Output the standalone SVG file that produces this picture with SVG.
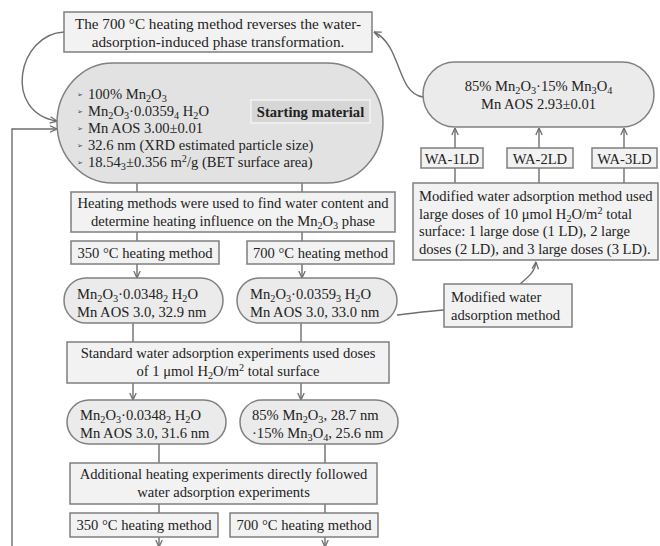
<svg xmlns="http://www.w3.org/2000/svg" width="660" height="546" viewBox="0 0 660 546">
<defs>
<marker id="ah" viewBox="0 0 8 8" refX="7.5" refY="4" markerWidth="8" markerHeight="8" markerUnits="userSpaceOnUse" orient="auto">
<path d="M0.5,0.8 L7.5,4 L0.5,7.2" fill="none" stroke="#6e6e6e" stroke-width="1.3"/>
</marker>
<style>
text{font-family:"Liberation Serif","Times New Roman",serif;font-size:14.6px;fill:#222}
.c{text-anchor:middle}
.b{font-weight:bold}
.t{font-size:15.2px}
.sb{font-size:10.2px;baseline-shift:-3px}
.sp{font-size:10.2px;baseline-shift:5px}
.box{fill:#f2f2f2;stroke:#7f7f7f;stroke-width:1.5}
.cap{fill:#ebebeb;stroke:#808080;stroke-width:1.5}
.cap0{fill:#e2e2e2;stroke:#808080;stroke-width:1.5}
.ln{fill:none;stroke:#6e6e6e;stroke-width:1.4}
.ar{fill:none;stroke:#6e6e6e;stroke-width:1.4;marker-end:url(#ah)}
.bl{font-family:"DejaVu Sans",sans-serif;font-size:7px;fill:#444}
</style>
</defs>
<rect width="660" height="546" fill="#ffffff"/>

<g id="connectors">
<path class="ar" d="M64,32 C18,34 2,112 57,121"/>
<path class="ar" d="M12,546 L12,129 L57,129"/>
<path class="ar" d="M423,97 C396,93 402,45 374,32"/>
<path class="ln" d="M137,183 V192 M302,183 V192"/>
<path class="ln" d="M137,232 V241 M302,232 V241"/>
<path class="ar" d="M137,264 V278"/>
<path class="ar" d="M302,264 V278"/>
<path class="ln" d="M133,323 V342 M301,323 V342"/>
<path class="ar" d="M133,383 V400"/>
<path class="ar" d="M301,383 V400"/>
<path class="ln" d="M159,444 V463 M325,444 V463"/>
<path class="ln" d="M159,504 V513 M325,504 V513"/>
<path class="ar" d="M159,537 V547"/>
<path class="ar" d="M325,537 V547"/>
<path class="ln" d="M397,315 C415,313 428,311 444,310"/>
<path class="ar" d="M520,284 C528,277 535,272 536,262"/>
<path class="ln" d="M455,168 V183 M539,168 V183 M624,168 V183"/>
<path class="ar" d="M455,148 V128"/>
<path class="ar" d="M539,148 V128"/>
<path class="ar" d="M624,148 V128"/>
</g>

<g id="reverse-note">
<rect class="box" x="64" y="12" width="308" height="40"/>
<text class="c t" x="218" y="29">The 700 °C heating method reverses the water-</text>
<text class="c t" x="218" y="47">adsorption-induced phase transformation.</text>
</g>

<g id="starting-material">
<rect class="cap0" x="57" y="63" width="326" height="120" rx="56" ry="60"/>
<rect x="251" y="100" width="119" height="23" fill="#d6d6d6" stroke="#f4f4f4" stroke-width="1.5"/>
<text class="c b" x="310.5" y="117">Starting material</text>
<text class="bl" x="77" y="97">➢</text>
<text class="bl" x="77" y="114">➢</text>
<text class="bl" x="77" y="131">➢</text>
<text class="bl" x="77" y="148">➢</text>
<text class="bl" x="77" y="165">➢</text>
<text x="88" y="99">100% Mn<tspan class="sb">2</tspan>O<tspan class="sb">3</tspan></text>
<text x="88" y="116">Mn<tspan class="sb">2</tspan>O<tspan class="sb">3</tspan>·0.0359<tspan class="sb">4</tspan> H<tspan class="sb">2</tspan>O</text>
<text x="88" y="133">Mn AOS 3.00±0.01</text>
<text x="88" y="150">32.6 nm (XRD estimated particle size)</text>
<text x="88" y="167">18.54<tspan class="sb">3</tspan>±0.356 m<tspan class="sp">2</tspan>/g (BET surface area)</text>
</g>

<g id="heating-methods">
<rect class="box" x="71" y="192" width="324" height="40"/>
<text class="c" x="233" y="208">Heating methods were used to find water content and</text>
<text class="c" x="233" y="226">determine heating influence on the Mn<tspan class="sb">2</tspan>O<tspan class="sb">3</tspan> phase</text>
</g>

<g id="heat350-a">
<rect class="box" x="71" y="241" width="148" height="23"/>
<text class="c" x="145" y="257.5">350 °C heating method</text>
</g>
<g id="heat700-a">
<rect class="box" x="247" y="241" width="147" height="23"/>
<text class="c" x="320.5" y="257.5">700 °C heating method</text>
</g>

<g id="result350-a">
<rect class="cap" x="64" y="278" width="159" height="45" rx="22" ry="22.5"/>
<text x="77" y="299">Mn<tspan class="sb">2</tspan>O<tspan class="sb">3</tspan>·0.0348<tspan class="sb">2</tspan> H<tspan class="sb">2</tspan>O</text>
<text x="77" y="317">Mn AOS 3.0, 32.9 nm</text>
</g>
<g id="result700-a">
<rect class="cap" x="237" y="278" width="160" height="45" rx="22" ry="22.5"/>
<text x="250" y="299">Mn<tspan class="sb">2</tspan>O<tspan class="sb">3</tspan>·0.0359<tspan class="sb">3</tspan> H<tspan class="sb">2</tspan>O</text>
<text x="250" y="317">Mn AOS 3.0, 33.0 nm</text>
</g>

<g id="standard-wa">
<rect class="box" x="67" y="342" width="322" height="41"/>
<text class="c" x="228" y="358">Standard water adsorption experiments used doses</text>
<text class="c" x="228" y="376">of 1 μmol H<tspan class="sb">2</tspan>O/m<tspan class="sp">2</tspan> total surface</text>
</g>

<g id="result350-b">
<rect class="cap" x="67" y="400" width="159" height="44" rx="22" ry="22"/>
<text x="80" y="420">Mn<tspan class="sb">2</tspan>O<tspan class="sb">3</tspan>·0.0348<tspan class="sb">2</tspan> H<tspan class="sb">2</tspan>O</text>
<text x="80" y="438">Mn AOS 3.0, 31.6 nm</text>
</g>
<g id="result700-b">
<rect class="cap" x="240" y="400" width="158" height="44" rx="22" ry="22"/>
<text x="252" y="420">85% Mn<tspan class="sb">2</tspan>O<tspan class="sb">3</tspan>, 28.7 nm</text>
<text x="252" y="438">·15% Mn<tspan class="sb">3</tspan>O<tspan class="sb">4</tspan>, 25.6 nm</text>
</g>

<g id="additional-heating">
<rect class="box" x="70" y="463" width="307" height="41"/>
<text class="c" x="223.5" y="479">Additional heating experiments directly followed</text>
<text class="c" x="223.5" y="497">water adsorption experiments</text>
</g>

<g id="heat350-b">
<rect class="box" x="70" y="513" width="148" height="24"/>
<text class="c" x="144" y="530">350 °C heating method</text>
</g>
<g id="heat700-b">
<rect class="box" x="230" y="513" width="148" height="24"/>
<text class="c" x="304" y="530">700 °C heating method</text>
</g>

<g id="mixed-phase">
<rect class="cap" x="423" y="62" width="231" height="65" rx="32" ry="32.5"/>
<text class="c" x="538.5" y="91">85% Mn<tspan class="sb">2</tspan>O<tspan class="sb">3</tspan>·15% Mn<tspan class="sb">3</tspan>O<tspan class="sb">4</tspan></text>
<text class="c" x="538.5" y="109">Mn AOS 2.93±0.01</text>
</g>

<g id="wa-1ld">
<rect class="box" x="421" y="148" width="62" height="20"/>
<text class="c" x="452" y="163.5">WA-1LD</text>
</g>
<g id="wa-2ld">
<rect class="box" x="507" y="148" width="66" height="20"/>
<text class="c" x="540" y="163.5">WA-2LD</text>
</g>
<g id="wa-3ld">
<rect class="box" x="592" y="148" width="65" height="20"/>
<text class="c" x="624.5" y="163.5">WA-3LD</text>
</g>

<g id="modified-description">
<rect class="box" x="413" y="183" width="245" height="77"/>
<text x="419" y="201">Modified water adsorption method used</text>
<text x="419" y="218.5">large doses of 10 μmol H<tspan class="sb">2</tspan>O/m<tspan class="sp">2</tspan> total</text>
<text x="419" y="236">surface: 1 large dose (1 LD), 2 large</text>
<text x="419" y="253.5">doses (2 LD), and 3 large doses (3 LD).</text>
</g>

<g id="modified-method">
<rect class="box" x="444" y="284" width="128" height="43"/>
<text x="451" y="302">Modified water</text>
<text x="451" y="320">adsorption method</text>
</g>
</svg>
